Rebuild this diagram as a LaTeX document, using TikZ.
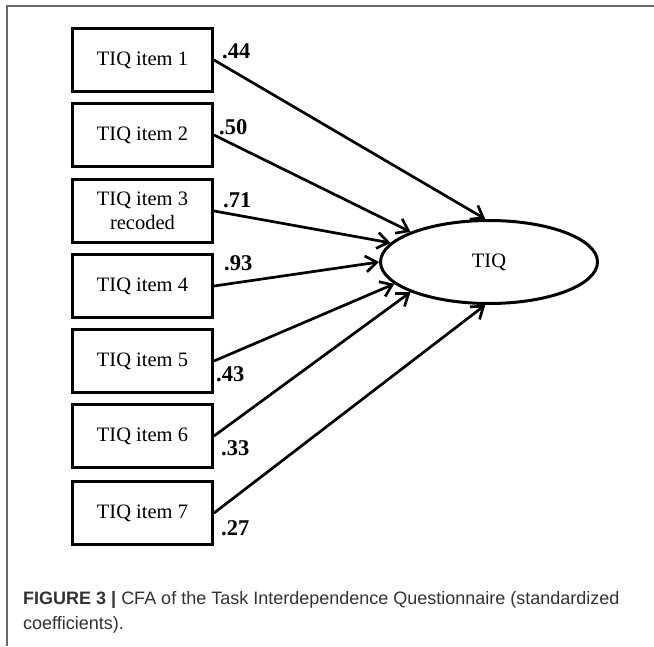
\documentclass[tikz,border=0pt]{standalone}
\usepackage{fontspec}
\setmainfont{Liberation Serif}
\newfontfamily\capfont{Liberation Sans}
\usetikzlibrary{arrows.meta,shapes.geometric}
\definecolor{capgray}{RGB}{50,50,50}
\definecolor{framegray}{RGB}{105,105,105}
\begin{document}
\begin{tikzpicture}[x=1pt,y=-1pt,
  itembox/.style={draw,line width=3pt,minimum width=140pt,minimum height=63pt,inner sep=0pt,align=center,font=\fontsize{20.5}{24.5}\selectfont},
  coef/.style={inner sep=0pt,anchor=west,font=\bfseries\fontsize{22.5}{24}\selectfont},
  conn/.style={line width=2.7pt,-{Straight Barb[length=11pt,width=16pt,line width=2.7pt]}},
  latent/.style={draw,ellipse,line width=3pt,minimum width=217pt,minimum height=83pt,inner sep=0pt,font=\fontsize{20.5}{24}\selectfont},
  captxt/.style={inner sep=0pt,anchor=west,text=capgray,font=\capfont\fontsize{18}{21}\selectfont}
]
\useasboundingbox (0,0) rectangle (654,646);
\draw[framegray,line width=1.8pt] (7,646) -- (7,6) -- (654,6);

\node[itembox] (i1) at (142.5,60) {TIQ item 1};
\node[itembox] (i2) at (142.5,135) {TIQ item 2};
\node[itembox] (i3) at (142.5,211) {TIQ item 3\\recoded};
\node[itembox] (i4) at (142.5,286) {TIQ item 4};
\node[itembox] (i5) at (142.5,361) {TIQ item 5};
\node[itembox] (i6) at (142.5,436) {TIQ item 6};
\node[itembox] (i7) at (142.5,513) {TIQ item 7};

\node[latent] (tiq) at (489,262) {TIQ};

\draw[conn] (i1.east) -- (tiq.95);
\draw[conn] (i2.east) -- (tiq.159);
\draw[conn] (i3.east) -- (tiq.169);
\draw[conn] (i4.east) -- (tiq.180);
\draw[conn] (i5.east) -- (tiq.193);
\draw[conn] (i6.east) -- (tiq.201);
\draw[conn] (i7.east) -- (tiq.265);

\node[coef] (c1) at (222,51) {.44};
\node[coef] (c2) at (219,127) {.50};
\node[coef] (c3) at (223,200) {.71};
\node[coef] (c4) at (224,263) {.93};
\node[coef] (c5) at (216,374) {.43};
\node[coef] (c6) at (221,448) {.33};
\node[coef] (c7) at (221,528) {.27};

\node[captxt] (cap1) at (23,600) {\textbf{FIGURE 3 |} CFA of the Task Interdependence Questionnaire (standardized};
\node[captxt] (cap2) at (23,625) {coefficients).};
\end{tikzpicture}
\end{document}
